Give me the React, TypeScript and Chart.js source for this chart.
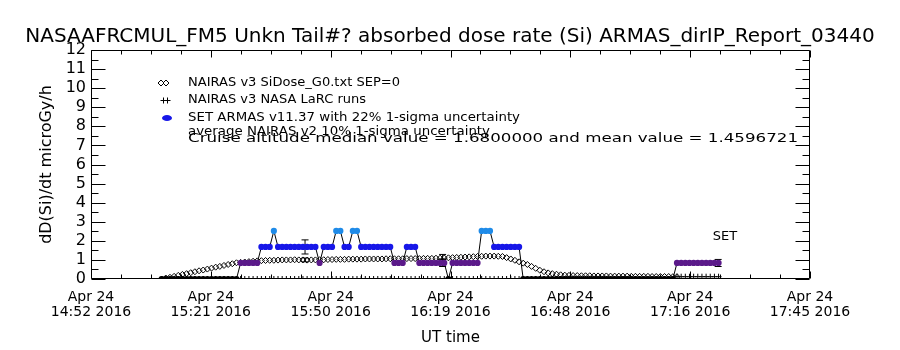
import React, { useEffect, useRef } from 'react';
import { Chart, registerables } from 'chart.js';

Chart.register(...registerables);

// ---------- text ----------
const TITLE = 'NASAAFRCMUL_FM5 Unkn Tail#? absorbed dose rate (Si) ARMAS_dirIP_Report_03440';
const Y_TITLE = 'dD(Si)/dt microGy/h';
const X_TITLE = 'UT time';
const LEGEND_LABELS = [
  'NAIRAS v3 SiDose_G0.txt SEP=0',
  'NAIRAS v3 NASA LaRC runs',
  'SET ARMAS v11.37 with 22% 1-sigma uncertainty',
];
const INFO_LINES = [
  'average NAIRAS v2 10% 1-sigma uncertainty',
  'Cruise altitude median value = 1.6800000 and mean value = 1.4596721',
];
const END_LABEL = 'SET';

// ---------- x axis (minutes after 14:52 UT) ----------
const X_MIN = 0;
const X_MAX = 173;
const tickMinutes = [0, 28.83, 57.67, 86.5, 115.33, 144.17, 173];
const tickDates = ['Apr 24', 'Apr 24', 'Apr 24', 'Apr 24', 'Apr 24', 'Apr 24', 'Apr 24'];
const tickTimes = ['14:52 2016', '15:21 2016', '15:50 2016', '16:19 2016', '16:48 2016', '17:16 2016', '17:45 2016'];

// ---------- y axis ----------
const Y_MIN = 0;
const Y_MAX = 12;

// ---------- series: one value per minute ----------
const armasStart = 17;
const armasDose = [
  0, 0, 0, 0, 0, 0, 0, 0, 0, 0,
  0, 0, 0, 0, 0, 0, 0, 0, 0, 0.84,
  0.84, 0.84, 0.84, 0.84, 1.68, 1.68, 1.68, 2.52, 1.68, 1.68,
  1.68, 1.68, 1.68, 1.68, 1.68, 1.68, 1.68, 1.68, 0.84, 1.68,
  1.68, 1.68, 2.52, 2.52, 1.68, 1.68, 2.52, 2.52, 1.68, 1.68,
  1.68, 1.68, 1.68, 1.68, 1.68, 1.68, 0.84, 0.84, 0.84, 1.68,
  1.68, 1.68, 0.84, 0.84, 0.84, 0.84, 0.84, 0.84, 0.84, 0,
  0.84, 0.84, 0.84, 0.84, 0.84, 0.84, 0.84, 2.52, 2.52, 2.52,
  1.68, 1.68, 1.68, 1.68, 1.68, 1.68, 1.68, 0, 0, 0,
  0, 0, 0, 0, 0, 0, 0, 0, 0, 0,
  0, 0, 0, 0, 0, 0, 0, 0, 0, 0,
  0, 0, 0, 0, 0, 0, 0, 0, 0, 0,
  0, 0, 0, 0, 0.84, 0.84, 0.84, 0.84, 0.84, 0.84,
  0.84, 0.84, 0.84, 0.84, 0.84,
];

const nairasStart = 17;
const nairasDose = [
  0, 0.05, 0.09, 0.14, 0.19, 0.24, 0.28, 0.33, 0.38, 0.43,
  0.47, 0.52, 0.57, 0.62, 0.66, 0.71, 0.76, 0.8, 0.85, 0.87,
  0.89, 0.91, 0.93, 0.95, 0.96, 0.97, 0.98, 0.98, 0.99, 1.0,
  1.0, 1.0, 1.01, 1.0, 1.0, 0.99, 1.0, 1.0, 1.01, 1.01,
  1.02, 1.02, 1.03, 1.03, 1.03, 1.04, 1.04, 1.04, 1.04, 1.05,
  1.05, 1.05, 1.05, 1.05, 1.06, 1.06, 1.06, 1.06, 1.06, 1.07,
  1.07, 1.07, 1.07, 1.08, 1.08, 1.08, 1.09, 1.09, 1.1, 1.11,
  1.12, 1.13, 1.14, 1.15, 1.16, 1.17, 1.18, 1.19, 1.2, 1.2,
  1.2, 1.19, 1.18, 1.12, 1.05, 0.98, 0.9, 0.83, 0.76, 0.66,
  0.56, 0.46, 0.38, 0.32, 0.28, 0.25, 0.22, 0.2, 0.19, 0.18,
  0.18, 0.17, 0.17, 0.17, 0.16, 0.16, 0.16, 0.16, 0.15, 0.15,
  0.15, 0.15, 0.15, 0.14, 0.14, 0.14, 0.14, 0.14, 0.13, 0.13,
  0.13, 0.13, 0.13, 0.12, 0.12,
];

const larcStart = 17;
const larcDose = [
  0, 0, 0, 0, 0, 0, 0, 0, 0, 0,
  0, 0, 0, 0, 0, 0, 0, 0, 0, 0,
  0, 0, 0, 0, 0, 0, 0, 0, 0, 0,
  0, 0, 0, 0, 0, 0, 0, 0, 0, 0,
  0, 0, 0, 0, 0, 0, 0, 0, 0, 0,
  0, 0, 0, 0, 0, 0, 0, 0, 0, 0,
  0, 0, 0, 0, 0, 0, 0, 0, 0, 0,
  0, 0, 0, 0, 0, 0, 0, 0, 0, 0,
  0, 0, 0, 0, 0, 0, 0, 0, 0, 0,
  0, 0, 0, 0, 0, 0, 0, 0, 0, 0,
  0, 0, 0, 0, 0, 0, 0, 0, 0, 0,
  0, 0, 0, 0, 0, 0, 0, 0, 0, 0,
  0, 0, 0, 0, 0.12, 0.12, 0.12, 0.12, 0.12, 0.12,
  0.12, 0.12, 0.12, 0.12, 0.12,
];

// error bars
const errMinutes = [51.5, 51.5, 84.6, 84.6, 150.9];
const errValues = [1.68, 1.0, 0.84, 1.17, 0.84];
const errSigma = [0.22, 0.1, 0.22, 0.1, 0.22];

// ---------- style ----------
const FONT = 'DejaVu Sans';
const BLACK = '#000000';

function doseColor(v: number): string {
  if (v < 0.01) return '#000000';
  if (v < 1.2) return '#5b1a8a';
  if (v < 2.0) return '#1717e8';
  return '#1f8be8';
}

function fillTextWidth(ctx: CanvasRenderingContext2D, text: string, x: number, y: number, width: number) {
  const w = ctx.measureText(text).width;
  ctx.save();
  ctx.translate(x, y);
  ctx.scale(width / w, 1);
  ctx.fillText(text, 0, 0);
  ctx.restore();
}

const overlayPlugin = {
  id: 'overlay',
  afterDatasetsDraw(chart: any) {
    const { ctx, chartArea } = chart;
    const xs = chart.scales.x;
    const ys = chart.scales.y;
    const L = Math.round(chartArea.left) + 0.5;
    const R = Math.round(chartArea.right) - 0.5;
    const T = Math.round(chartArea.top) + 0.5;
    const B = Math.round(chartArea.bottom) - 0.5;
    ctx.save();
    ctx.strokeStyle = BLACK;
    ctx.lineWidth = 1;
    ctx.beginPath();
    ctx.rect(L, T, R - L, B - T);
    for (let v = Y_MIN; v <= Y_MAX + 1e-9; v += 0.5) {
      const py = Math.round(ys.getPixelForValue(v)) + 0.5;
      const len = Math.abs(v - Math.round(v)) < 1e-6 ? 14 : 7;
      ctx.moveTo(L, py);
      ctx.lineTo(L + len, py);
      ctx.moveTo(R, py);
      ctx.lineTo(R - len, py);
    }
    const step = (X_MAX - X_MIN) / 24;
    for (let i = 0; i <= 24; i++) {
      const px = Math.round(xs.getPixelForValue(X_MIN + i * step)) + 0.5;
      const len = i % 4 === 0 ? 7 : 4;
      ctx.moveTo(px, T);
      ctx.lineTo(px, T + len);
      ctx.moveTo(px, B);
      ctx.lineTo(px, B - len);
    }
    ctx.stroke();
    ctx.restore();
  },
  afterDraw(chart: any) {
    const { ctx } = chart;
    ctx.save();
    ctx.fillStyle = BLACK;
    ctx.strokeStyle = BLACK;
    ctx.lineWidth = 1;
    ctx.font = `13px "${FONT}"`;
    ctx.textBaseline = 'middle';
    ctx.textAlign = 'left';
    const tx = 188;
    const rows = [83, 100, 118];
    fillTextWidth(ctx, LEGEND_LABELS[0], tx, rows[0], 212);
    fillTextWidth(ctx, LEGEND_LABELS[1], tx, rows[1], 178);
    fillTextWidth(ctx, LEGEND_LABELS[2], tx, rows[2], 332);
    fillTextWidth(ctx, INFO_LINES[0], tx, 132, 302);
    fillTextWidth(ctx, INFO_LINES[1], tx, 139, 610);
    ctx.beginPath();
    [161, 166].forEach((cx) => {
      const cy = rows[0];
      ctx.moveTo(cx - 3, cy);
      ctx.lineTo(cx, cy - 3);
      ctx.lineTo(cx + 3, cy);
      ctx.lineTo(cx, cy + 3);
      ctx.closePath();
    });
    ctx.stroke();
    ctx.beginPath();
    [163.5, 167.5].forEach((cx) => {
      const cy = rows[1] + 0.5;
      ctx.moveTo(cx - 3, cy);
      ctx.lineTo(cx + 3, cy);
      ctx.moveTo(cx, cy - 3);
      ctx.lineTo(cx, cy + 3);
    });
    ctx.stroke();
    ctx.fillStyle = doseColor(1.68);
    ctx.beginPath();
    ctx.ellipse(167, rows[2], 5, 3, 0, 0, Math.PI * 2);
    ctx.fill();
    ctx.fillStyle = BLACK;
    ctx.textAlign = 'center';
    ctx.fillText(END_LABEL, 725, 237);
    ctx.restore();
  },
};

export default function App() {
  const canvasRef = useRef<HTMLCanvasElement | null>(null);

  useEffect(() => {
    const canvas = canvasRef.current;
    if (!canvas) return;

    const armasData = armasDose.map((v, i) => ({ x: armasStart + i, y: v }));
    const nairasData = nairasDose.map((v, i) => ({ x: nairasStart + i, y: v }));
    const larcData = larcDose.map((v, i) => ({ x: larcStart + i, y: v }));
    const errSets = errMinutes.map((m, i) => ({
      label: 'err' + i,
      data: [
        { x: m, y: errValues[i] * (1 - errSigma[i]) },
        { x: m, y: errValues[i] * (1 + errSigma[i]) },
      ],
      borderColor: BLACK,
      borderWidth: 1,
      pointStyle: 'line',
      pointRadius: 3.5,
      pointBorderColor: BLACK,
      pointBorderWidth: 1,
      showLine: true,
      order: 1,
    }));

    const chart = new Chart(canvas, {
      type: 'line',
      data: {
        datasets: [
          {
            label: LEGEND_LABELS[2],
            data: armasData,
            borderColor: BLACK,
            borderWidth: 1,
            pointStyle: 'circle',
            pointRadius: 3.1,
            pointBorderWidth: 0,
            pointBackgroundColor: (c: any) => doseColor(c.raw ? c.raw.y : 0),
            pointBorderColor: (c: any) => doseColor(c.raw ? c.raw.y : 0),
            tension: 0,
            order: 0,
          },
          ...errSets,
          {
            label: LEGEND_LABELS[0],
            data: nairasData,
            showLine: false,
            pointStyle: 'rectRot',
            pointRadius: 3,
            pointBorderColor: BLACK,
            pointBorderWidth: 1,
            pointBackgroundColor: 'rgba(0,0,0,0)',
            order: 2,
          },
          {
            label: LEGEND_LABELS[1],
            data: larcData,
            showLine: false,
            pointStyle: 'cross',
            pointRadius: 3,
            pointBorderColor: BLACK,
            pointBorderWidth: 1,
            order: 3,
          },
        ] as any,
      },
      options: {
        responsive: false,
        animation: false,
        devicePixelRatio: 1,
        layout: { padding: 0 },
        plugins: {
          legend: { display: false },
          tooltip: { enabled: false },
          title: {
            display: true,
            text: TITLE,
            color: BLACK,
            font: { family: FONT, size: 20, weight: 'normal', lineHeight: 1.2 },
            padding: { top: 25, bottom: 1 },
          },
        },
        scales: {
          x: {
            type: 'linear',
            min: X_MIN,
            max: X_MAX,
            afterBuildTicks: (s: any) => {
              s.ticks = tickMinutes.map((v) => ({ value: v }));
            },
            afterFit: (s: any) => {
              s.height = 71;
            },
            ticks: {
              autoSkip: false,
              maxRotation: 0,
              color: BLACK,
              padding: 10.5,
              font: { family: FONT, size: 14, lineHeight: 1.07 },
              callback: (_v: any, i: number) => [tickDates[i], tickTimes[i]],
            },
            grid: { display: false, drawTicks: false },
            border: { display: false },
            title: {
              display: true,
              text: X_TITLE,
              color: BLACK,
              font: { family: FONT, size: 15, lineHeight: 1.2 },
              padding: { top: 0, bottom: 3 },
            },
          },
          y: {
            type: 'linear',
            min: Y_MIN,
            max: Y_MAX,
            afterFit: (s: any) => {
              s.width = 91;
            },
            ticks: {
              stepSize: 1,
              autoSkip: false,
              color: BLACK,
              padding: 5,
              font: { family: FONT, size: 16 },
            },
            grid: { display: false, drawTicks: false },
            border: { display: false },
            title: {
              display: true,
              text: Y_TITLE,
              color: BLACK,
              font: { family: FONT, size: 16, lineHeight: 1.2 },
              padding: { top: 37, bottom: 0 },
            },
          },
          yRight: {
            type: 'linear',
            position: 'right',
            min: Y_MIN,
            max: Y_MAX,
            afterFit: (s: any) => {
              s.width = 90;
            },
            ticks: { display: false },
            grid: { display: false, drawTicks: false },
            border: { display: false },
          },
        },
      } as any,
      plugins: [overlayPlugin],
    });

    return () => chart.destroy();
  }, []);

  return (
    <div style={{ position: 'absolute', left: 0, top: 0, width: 900, height: 350, background: '#ffffff' }}>
      <canvas ref={canvasRef} width={900} height={350} />
    </div>
  );
}
